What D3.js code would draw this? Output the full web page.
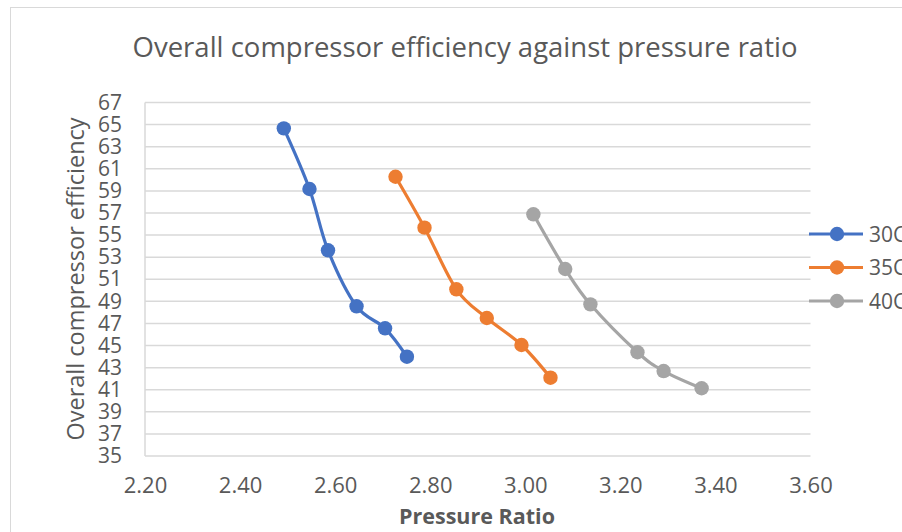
<!DOCTYPE html>
<html>
<head>
<meta charset="utf-8">
<script src="https://cdn.jsdelivr.net/npm/d3@7"></script>
<style>
  body { margin: 0; background: #fff; }
  svg { display: block; }
  text { font-family: "Open Sans", "Noto Sans", sans-serif; fill: #595959; }
</style>
</head>
<body>
<div id="chart"></div>
<script>
// series names (legend)
var seriesNames = ["30C", "35C", "40C"];
// pressure ratio values per series
var ratio30 = [2.492, 2.546, 2.585, 2.645, 2.705, 2.751];
var ratio35 = [2.727, 2.788, 2.855, 2.919, 2.992, 3.053];
var ratio40 = [3.017, 3.084, 3.137, 3.236, 3.291, 3.371];
// overall compressor efficiency per series
var eff30 = [64.66, 59.17, 53.62, 48.55, 46.56, 43.99];
var eff35 = [60.28, 55.67, 50.09, 47.49, 45.05, 42.09];
var eff40 = [56.88, 51.93, 48.73, 44.39, 42.69, 41.13];
// tick labels
var xTicks = [2.2, 2.4, 2.6, 2.8, 3.0, 3.2, 3.4, 3.6];
var yTicks = d3.range(35, 68, 2);

(function() {
    var width = 902;
    var height = 532;
    var colors = ["#4472C4", "#ED7D31", "#A5A5A5"];

    var series = [
        {name: seriesNames[0], xs: ratio30, ys: eff30},
        {name: seriesNames[1], xs: ratio35, ys: eff35},
        {name: seriesNames[2], xs: ratio40, ys: eff40}
    ];

    var svg = d3.select("#chart")
        .append("svg")
        .attr("width", width)
        .attr("height", height);

    // chart border (runs off the picture on right/bottom)
    svg.append("rect")
        .attr("x", 10.5).attr("y", 7.5)
        .attr("width", 1000).attr("height", 600)
        .attr("fill", "none")
        .attr("stroke", "#D9D9D9");

    var x = d3.scaleLinear().domain([2.2, 3.6]).range([145, 810.5]);
    var y = d3.scaleLinear().domain([35, 67]).range([456, 102.5]);

    // horizontal gridlines
    svg.append("g")
        .selectAll("line")
        .data(yTicks)
        .join("line")
            .attr("x1", x(2.2))
            .attr("x2", x(3.6))
            .attr("y1", d => y(d))
            .attr("y2", d => y(d))
            .attr("stroke", "#D9D9D9")
            .attr("stroke-width", 1.5);

    // left axis line
    svg.append("line")
        .attr("x1", x(2.2)).attr("x2", x(2.2))
        .attr("y1", y(67)).attr("y2", y(35))
        .attr("stroke", "#D9D9D9")
        .attr("stroke-width", 1.5);

    // y axis
    var yAxis = svg.append("g")
        .attr("transform", `translate(${x(2.2)}, 0)`)
        .call(d3.axisLeft(y).tickValues(yTicks).tickSize(0).tickPadding(23));
    yAxis.select(".domain").remove();
    yAxis.selectAll("text")
        .attr("font-size", "21px")
        .attr("font-family", null)
        .attr("fill", null);

    // x axis
    var xAxis = svg.append("g")
        .attr("transform", `translate(0, ${y(35)})`)
        .call(d3.axisBottom(x).tickValues(xTicks).tickFormat(d3.format(".2f")).tickSize(0).tickPadding(21));
    xAxis.select(".domain").remove();
    xAxis.selectAll("text")
        .attr("font-size", "22px")
        .attr("font-family", null)
        .attr("fill", null);

    // lines + markers
    var line = d3.line()
        .x(d => x(d[0]))
        .y(d => y(d[1]))
        .curve(d3.curveCatmullRom.alpha(0));

    series.forEach(function(s, i) {
        var pts = s.xs.map((v, j) => [v, s.ys[j]]);
        svg.append("path")
            .datum(pts)
            .attr("d", line)
            .attr("fill", "none")
            .attr("stroke", colors[i])
            .attr("stroke-width", 3.2)
            .attr("stroke-linejoin", "round");
        svg.append("g")
            .selectAll("circle")
            .data(pts)
            .join("circle")
                .attr("cx", d => x(d[0]))
                .attr("cy", d => y(d[1]))
                .attr("r", 7.2)
                .attr("fill", colors[i]);
    });

    // title
    svg.append("text")
        .attr("x", 465)
        .attr("y", 57)
        .attr("text-anchor", "middle")
        .attr("font-size", "27.5px")
        .text("Overall compressor efficiency against pressure ratio");

    // axis titles
    svg.append("text")
        .attr("transform", "translate(84, 279) rotate(-90)")
        .attr("text-anchor", "middle")
        .attr("font-size", "23.5px")
        .text("Overall compressor efficiency");

    svg.append("text")
        .attr("x", 477)
        .attr("y", 524)
        .attr("text-anchor", "middle")
        .attr("font-size", "21.5px")
        .attr("font-weight", "bold")
        .text("Pressure Ratio");

    // legend
    var legend = svg.append("g")
        .selectAll("g")
        .data(series)
        .join("g")
            .attr("transform", (d, i) => `translate(809, ${234 + i * 33.5})`);
    legend.append("line")
        .attr("x1", 0).attr("x2", 54)
        .attr("stroke", (d, i) => colors[i])
        .attr("stroke-width", 3.2);
    legend.append("circle")
        .attr("cx", 28).attr("r", 7.2)
        .attr("fill", (d, i) => colors[i]);
    legend.append("text")
        .attr("x", 60)
        .attr("dy", "0.36em")
        .attr("font-size", "21px")
        .text(d => d.name);
})();
</script>
</body>
</html>
